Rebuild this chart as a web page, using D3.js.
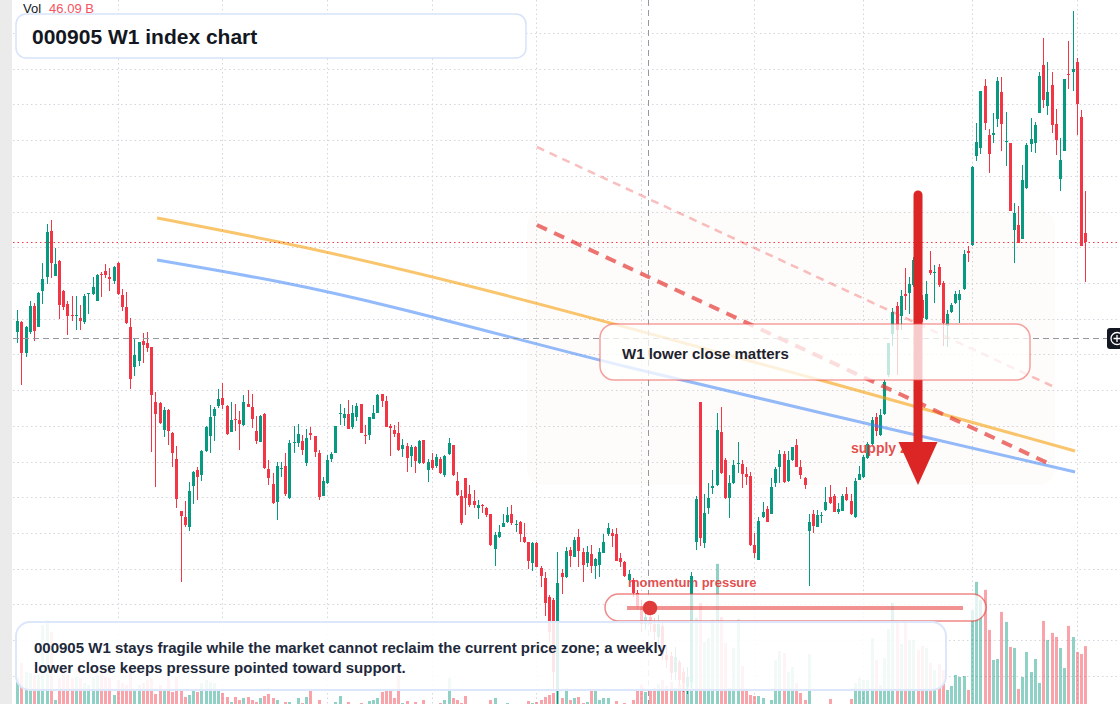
<!DOCTYPE html>
<html lang="en">
<head>
<meta charset="UTF-8">
<title>000905 W1 index chart</title>
<script src="https://d3js.org/d3.v7.min.js"></script>
<style>
  html, body { margin: 0; padding: 0; background: #ffffff; }
  svg { display: block; font-family: "Liberation Sans", Arial, sans-serif; }
</style>
</head>
<body>
<svg id="chart"></svg>
<script>
// weekly bars, oldest first
const open = [
  6157, 6227, 6010, 6157, 6339, 6192, 6444, 6542, 6864, 6549,
  6654, 6444, 6353, 6276, 6269, 6255, 6227, 6423, 6423, 6374,
  6563, 6584, 6542, 6514, 6640, 6416, 6332, 6192, 5912, 5954,
  6094, 6080, 6052, 5667, 5660, 5471, 5611, 5450, 5268, 4904,
  4862, 4792, 5079, 5191, 5156, 5324, 5429, 5569, 5639, 5695,
  5639, 5457, 5548, 5541, 5506, 5653, 5632, 5464, 5387, 5583,
  5198, 5093, 4967, 5198, 5219, 4995, 5380, 5380, 5394, 5240,
  5450, 5429, 5310, 5009, 5100, 5268, 5310, 5583, 5555, 5583,
  5492, 5562, 5653, 5436, 5436, 5548, 5590, 5723, 5674, 5499,
  5471, 5450, 5338, 5359, 5289, 5352, 5240, 5401, 5191, 5261,
  5219, 5268, 5156, 5303, 5366, 5114, 5009, 5135, 5023, 4974,
  4925, 4946, 4925, 4883, 4638, 4722, 4792, 4827, 4883, 4806,
  4827, 4722, 4687, 4540, 4680, 4505, 4435, 4302, 4281, 3651,
  4470, 4442, 4631, 4582, 4722, 4617, 4540, 4603, 4519, 4526,
  4610, 4743, 4750, 4743, 4575, 4547, 4421, 4421, 4330, 4232,
  4113, 4162, 4113, 4022, 4099, 3896, 3889, 3777, 3847, 3777,
  3672, 3707, 4687, 5667, 4680, 4925, 5065, 5086, 5457, 5261,
  4995, 5100, 5233, 5233, 5163, 5149, 4666, 4561, 4862, 4918,
  4883, 5100, 5212, 5303, 5114, 5261, 5366, 5212, 5135, 4764,
  4883, 4792, 4869, 4911, 5002, 5009, 4897, 4904, 5023, 4974,
  4862, 5121, 5142, 5275, 5373, 5562, 5436, 5583, 5856, 6143,
  6339, 6269, 6423, 6430, 6486, 6647, 6381, 6248, 6591, 6570,
  6612, 6500, 6199, 6297, 6360, 6381, 6458, 6724, 6766, 7389,
  7445, 7879, 7536, 7536, 7648, 7837, 7487, 7480, 6871, 6906,
  6808, 7165, 7473, 7480, 7690, 8026, 7739, 7886, 7613, 7228,
  7424, 7963, 7977, 8047, 7662, 6850
];
const high = [
  6311, 6234, 6199, 6374, 6360, 6437, 6640, 6913, 6941, 6745,
  6661, 6451, 6374, 6409, 6409, 6346, 6423, 6430, 6542, 6563,
  6577, 6633, 6605, 6619, 6647, 6458, 6437, 6255, 6115, 6087,
  6150, 6157, 6052, 5737, 5667, 5632, 5618, 5457, 5359, 4904,
  4974, 5107, 5184, 5212, 5331, 5499, 5646, 5632, 5758, 5800,
  5646, 5667, 5653, 5604, 5716, 5751, 5723, 5569, 5576, 5590,
  5261, 5170, 5247, 5247, 5310, 5401, 5499, 5513, 5436, 5478,
  5492, 5429, 5331, 5142, 5296, 5317, 5499, 5653, 5625, 5681,
  5646, 5660, 5653, 5506, 5562, 5646, 5723, 5723, 5709, 5513,
  5506, 5527, 5408, 5380, 5366, 5359, 5401, 5401, 5268, 5310,
  5303, 5282, 5296, 5415, 5366, 5177, 5051, 5135, 5086, 5051,
  4981, 4953, 4932, 4883, 4757, 4806, 4883, 4932, 4946, 4841,
  4834, 4820, 4687, 4687, 4687, 4519, 4477, 4316, 4295, 4617,
  4498, 4652, 4652, 4722, 4778, 4645, 4659, 4666, 4575, 4645,
  4743, 4820, 4778, 4785, 4610, 4554, 4491, 4435, 4351, 4281,
  4197, 4197, 4155, 4176, 4127, 3966, 3917, 3952, 3861, 3805,
  3812, 4477, 5009, 5667, 5023, 5100, 5191, 5590, 5632, 5275,
  5156, 5261, 5387, 5261, 5212, 5177, 4750, 4862, 4967, 4939,
  5135, 5212, 5331, 5324, 5324, 5352, 5408, 5261, 5142, 4883,
  4911, 4911, 4897, 5072, 5086, 5023, 4960, 5023, 5072, 5023,
  5135, 5219, 5296, 5387, 5562, 5590, 5618, 5828, 6080, 6325,
  6367, 6451, 6605, 6542, 6682, 6675, 6416, 6514, 6724, 6626,
  6633, 6514, 6311, 6360, 6444, 6451, 6731, 6759, 7319, 7620,
  7844, 7928, 7578, 7690, 7942, 7942, 7697, 7480, 7060, 7039,
  7326, 7480, 7655, 7627, 7977, 8215, 8047, 7977, 7718, 7515,
  7928, 8194, 8404, 8075, 7711, 7144
];
const low = [
  6080, 5786, 5982, 6143, 6094, 6192, 6353, 6493, 6535, 6549,
  6248, 6311, 6136, 6234, 6171, 6171, 6213, 6283, 6416, 6374,
  6402, 6535, 6444, 6493, 6416, 6304, 6213, 5758, 5849, 5919,
  5940, 6017, 5317, 5072, 5513, 5422, 5366, 5212, 4925, 4407,
  4792, 4764, 4953, 4981, 5114, 5317, 5310, 5394, 5625, 5618,
  5436, 5457, 5464, 5331, 5499, 5632, 5485, 5373, 5387, 5198,
  5086, 4953, 4841, 5142, 5009, 4988, 5310, 5352, 5296, 5219,
  5401, 5282, 4981, 5009, 5093, 5247, 5310, 5506, 5499, 5478,
  5478, 5534, 5450, 5373, 5401, 5548, 5590, 5632, 5492, 5289,
  5422, 5324, 5282, 5177, 5212, 5170, 5233, 5233, 5107, 5191,
  5205, 5163, 5142, 5296, 5149, 5009, 4806, 4876, 4932, 4925,
  4848, 4890, 4862, 4659, 4519, 4715, 4792, 4820, 4806, 4757,
  4687, 4680, 4498, 4484, 4512, 4372, 4169, 3987, 3651, 3539,
  4323, 4435, 4512, 4582, 4512, 4407, 4512, 4470, 4428, 4442,
  4610, 4729, 4652, 4554, 4512, 4442, 4414, 4302, 4211, 4057,
  4071, 4057, 4001, 3945, 3861, 3805, 3721, 3721, 3686, 3637,
  3623, 3665, 4631, 4659, 4645, 4883, 5023, 5079, 5163, 4988,
  4855, 5093, 5170, 5065, 5086, 4659, 4575, 4561, 4855, 4827,
  4883, 5072, 5100, 5100, 5107, 5254, 5212, 5128, 5058, 4379,
  4750, 4792, 4820, 4904, 4953, 4897, 4883, 4904, 4974, 4876,
  4855, 5121, 5135, 5268, 5366, 5429, 5429, 5576, 5842, 6059,
  5856, 6171, 6311, 6283, 6472, 6346, 6227, 6241, 6556, 6360,
  6472, 6059, 6052, 6290, 6353, 6220, 6451, 6647, 6759, 7354,
  7403, 7571, 7270, 7480, 7592, 7424, 7319, 7004, 6640, 6780,
  6808, 7158, 7417, 7410, 7690, 7725, 7676, 7550, 7396, 7144,
  7424, 7858, 7844, 7536, 6759, 6507
];
const close = [
  6234, 6010, 6192, 6339, 6164, 6430, 6528, 6857, 6640, 6633,
  6346, 6332, 6269, 6269, 6276, 6234, 6409, 6430, 6472, 6556,
  6556, 6556, 6528, 6612, 6423, 6332, 6220, 5828, 5996, 6087,
  6066, 6045, 5716, 5583, 5520, 5611, 5464, 5310, 4988, 4869,
  4806, 5044, 5177, 5142, 5324, 5492, 5562, 5618, 5688, 5646,
  5443, 5541, 5541, 5513, 5667, 5632, 5548, 5394, 5569, 5205,
  5135, 4960, 5219, 5205, 5023, 5380, 5387, 5443, 5331, 5415,
  5436, 5317, 5002, 5114, 5261, 5303, 5499, 5590, 5583, 5478,
  5590, 5639, 5450, 5429, 5562, 5590, 5716, 5674, 5492, 5485,
  5443, 5331, 5366, 5275, 5352, 5254, 5394, 5240, 5247, 5205,
  5282, 5170, 5289, 5380, 5156, 5016, 4820, 4995, 4946, 4946,
  4946, 4939, 4876, 4666, 4736, 4757, 4820, 4876, 4820, 4813,
  4743, 4687, 4554, 4680, 4512, 4449, 4260, 4057, 3777, 4400,
  4442, 4624, 4589, 4701, 4624, 4526, 4617, 4519, 4568, 4617,
  4687, 4785, 4729, 4554, 4547, 4449, 4463, 4330, 4239, 4113,
  4162, 4113, 4057, 4113, 3896, 3861, 3770, 3882, 3721, 3700,
  3742, 4449, 4988, 4715, 4890, 4995, 5079, 5471, 5170, 4995,
  5100, 5226, 5240, 5163, 5142, 4666, 4610, 4834, 4897, 4827,
  5072, 5198, 5303, 5107, 5261, 5352, 5212, 5156, 5086, 4827,
  4799, 4876, 4876, 4967, 4960, 4897, 4918, 5009, 4981, 4883,
  5114, 5163, 5282, 5373, 5541, 5464, 5576, 5807, 6080, 6297,
  6171, 6409, 6409, 6493, 6661, 6381, 6255, 6423, 6570, 6577,
  6486, 6220, 6283, 6346, 6423, 6423, 6703, 6710, 7312, 7487,
  7844, 7620, 7403, 7550, 7914, 7613, 7494, 7004, 6990, 6780,
  7221, 7466, 7508, 7606, 7949, 7781, 7837, 7606, 7501, 7361,
  7928, 7956, 7998, 7753, 6759, 6787
];
// volume, billions
const volume = [
  23.8, 34.3, 28.0, 27.3, 25.9, 25.9, 60.9, 63.7, 56.0, 8.4,
  23.8, 29.4, 25.9, 23.8, 24.5, 23.8, 20.3, 18.9, 24.5, 25.9,
  27.3, 24.5, 23.8, 11.9, 22.4, 20.3, 18.9, 29.4, 15.4, 18.9,
  20.3, 22.4, 23.8, 12.6, 18.9, 15.4, 24.5, 14.0, 24.5, 15.4,
  10.5, 11.9, 16.1, 14.0, 20.3, 22.4, 21.0, 20.3, 15.4, 13.3,
  10.5, 7.0, 10.5, 8.4, 9.8, 10.5, 8.4, 7.0, 9.8, 11.2,
  12.6, 9.8, 8.4, 5.6, 7.0, 7.0, 4.9, 9.8, 6.3, 10.5,
  15.4, 5.6, 8.4, 4.2, 4.9, 3.5, 7.0, 11.2, 5.6, 7.0,
  4.2, 4.9, 6.3, 4.2, 7.7, 8.4, 9.8, 14.0, 15.4, 15.4,
  9.8, 25.9, 6.3, 7.7, 4.9, 7.0, 5.6, 8.4, 4.9, 4.2,
  5.6, 6.3, 8.4, 23.8, 9.8, 8.4, 6.3, 11.2, 5.6, 4.2,
  4.9, 3.5, 4.2, 8.4, 9.8, 5.6, 4.9, 6.3, 5.6, 4.2,
  4.9, 5.6, 7.7, 6.3, 7.0, 8.4, 10.5, 11.9, 13.3, 15.4,
  9.8, 16.8, 8.4, 9.8, 10.5, 6.3, 7.0, 15.4, 14.7, 8.4,
  9.8, 9.8, 5.6, 7.7, 4.9, 6.3, 5.6, 8.4, 15.4, 18.9,
  14.0, 15.4, 16.8, 19.6, 22.4, 18.2, 21.0, 16.8, 19.6, 22.4,
  18.2, 79.8, 65.8, 76.3, 49.0, 51.8, 64.4, 103.6, 66.5, 48.3,
  16.8, 44.8, 65.1, 32.2, 15.4, 11.9, 11.2, 11.2, 9.8, 4.9,
  8.4, 36.4, 42.7, 41.3, 28.0, 31.5, 20.3, 13.3, 8.4, 40.6,
  4.9, 4.2, 4.9, 5.6, 9.1, 4.2, 4.9, 5.6, 4.9, 9.1,
  20.3, 23.8, 22.4, 22.4, 51.8, 36.4, 18.9, 37.8, 58.1, 76.3,
  62.3, 47.6, 62.3, 50.4, 50.4, 43.4, 46.2, 44.8, 34.3, 29.4,
  33.6, 29.4, 15.4, 18.2, 25.9, 24.5, 25.2, 15.4, 71.4, 91.0,
  78.4, 85.4, 57.4, 36.4, 37.1, 70.0, 63.0, 45.5, 44.8, 16.1,
  24.5, 42.0, 28.0, 37.1, 20.3, 63.7, 50.4, 55.3, 52.5, 44.8,
  30.8, 60.2, 52.5, 42.0, 40.6, 46.09
];

// grid ticks
const priceTicks = [8250, 8000, 7750, 7500, 7250, 7000, 6750, 6500, 6250, 6000,
  5750, 5500, 5250, 5000, 4750, 4500, 4250, 4000, 3750];
const timeTickIdx = [24, 49, 74, 99, 124, 149, 176, 202, 228, 253];

// drawings: [bar index, price]
const orangeLine = [[33.4, 6955], [62.8, 6785], [191.7, 5821], [252.6, 5324]];
const blueLine = [[33.4, 6661], [62.8, 6507], [148.7, 5891], [194.1, 5576], [252.6, 5177]];
const lightTrend = [[124.1, 7452], [247.1, 5779]];
const heavyTrend = [[124.1, 6906], [247.1, 5226]];
const zoneIdx = [121.7, 247.8];
const zonePrice = [7011, 5086];
const arrowIdx = 215.1;
const arrowPrice = [7116, 5387, 5086]; // shaft top, head base, tip
const crossIdx = 150.7;
const crossPrice = 6115;

const W = 1120, H = 704;
const UP = "#089981", DOWN = "#f23645";

const svg = d3.select("#chart").attr("width", W).attr("height", H);
const x = d3.scaleLinear().domain([0, close.length - 1]).range([17.2, 1085.1]);
const y = d3.scaleLinear().domain([3553, 8481]).range([704, 0]);
const yVol = d3.scaleLinear().domain([0, 100]).range([712, 569]);
const idx = d3.range(close.length);
const cx = i => Math.round(x(i));

svg.append("rect").attr("width", W).attr("height", H).attr("fill", "#ffffff");
svg.append("rect").attr("width", 12).attr("height", H).attr("fill", "#ebebeb");

// grid
const grid = svg.append("g")
  .attr("stroke", "#d3d6dc").attr("stroke-width", 1).attr("stroke-dasharray", "1.5,3");
grid.selectAll(".gh").data(priceTicks).join("line")
  .attr("x1", 13).attr("x2", W)
  .attr("y1", d => Math.round(y(d)) + 0.5).attr("y2", d => Math.round(y(d)) + 0.5);
grid.selectAll(".gv").data(timeTickIdx).join("line")
  .attr("x1", d => cx(d) + 0.5).attr("x2", d => cx(d) + 0.5)
  .attr("y1", 0).attr("y2", H);

// zone
svg.append("rect")
  .attr("x", x(zoneIdx[0])).attr("y", y(zonePrice[0]))
  .attr("width", x(zoneIdx[1]) - x(zoneIdx[0]))
  .attr("height", y(zonePrice[1]) - y(zonePrice[0]))
  .attr("rx", 16)
  .attr("fill", "rgba(230,180,140,0.04)");

// volume
svg.append("g").selectAll("rect").data(idx).join("rect")
  .attr("x", i => cx(i) - 1)
  .attr("width", 3)
  .attr("y", i => yVol(volume[i]))
  .attr("height", i => yVol(0) - yVol(volume[i]))
  .attr("fill", i => close[i] >= open[i] ? "rgba(8,153,129,0.45)" : "rgba(242,54,69,0.45)");

// momentum label (under candles)
svg.append("text").attr("x", 628).attr("y", 587)
  .attr("font-size", 13).attr("font-weight", "bold")
  .attr("fill", "rgba(225,55,55,0.9)")
  .text("momentum pressure");

// candles
const bars = svg.append("g").selectAll("g").data(idx).join("g")
  .attr("fill", i => close[i] >= open[i] ? UP : DOWN);
bars.append("rect")
  .attr("x", i => cx(i))
  .attr("width", 1)
  .attr("y", i => y(high[i]))
  .attr("height", i => Math.max(1, y(low[i]) - y(high[i])));
bars.append("rect")
  .attr("x", i => cx(i) - 1)
  .attr("width", 3)
  .attr("y", i => y(Math.max(open[i], close[i])))
  .attr("height", i => Math.max(1, Math.abs(y(open[i]) - y(close[i]))));

// lines
const line = d3.line().x(d => x(d[0])).y(d => y(d[1]));
const curve = d3.line().x(d => x(d[0])).y(d => y(d[1])).curve(d3.curveMonotoneX);
svg.append("path").attr("d", curve(orangeLine)).attr("fill", "none")
  .attr("stroke", "rgba(245,158,11,0.6)").attr("stroke-width", 3);
svg.append("path").attr("d", curve(blueLine)).attr("fill", "none")
  .attr("stroke", "rgba(59,130,246,0.55)").attr("stroke-width", 3);
svg.append("path").attr("d", line(lightTrend)).attr("fill", "none")
  .attr("stroke", "rgba(239,68,68,0.35)").attr("stroke-width", 2.5)
  .attr("stroke-dasharray", "8,6");
svg.append("path").attr("d", line(heavyTrend)).attr("fill", "none")
  .attr("stroke", "rgba(229,57,53,0.7)").attr("stroke-width", 4)
  .attr("stroke-dasharray", "11,8");

// last price line
const lastY = Math.round(y(close[close.length - 1])) + 0.5;
svg.append("line").attr("x1", 13).attr("x2", W).attr("y1", lastY).attr("y2", lastY)
  .attr("stroke", DOWN).attr("stroke-width", 1).attr("stroke-dasharray", "1.5,3");

// crosshair
const chX = Math.round(x(crossIdx)) + 0.5, chY = Math.round(y(crossPrice)) + 0.5;
svg.append("line").attr("x1", chX).attr("x2", chX).attr("y1", 0).attr("y2", H)
  .attr("stroke", "#9598a1").attr("stroke-dasharray", "6,4");
svg.append("line").attr("x1", 13).attr("x2", 1107).attr("y1", chY).attr("y2", chY)
  .attr("stroke", "#9598a1").attr("stroke-dasharray", "6,4");

// supply zone label + arrow
svg.append("text").attr("x", 851).attr("y", 453)
  .attr("font-size", 14).attr("font-weight", "bold")
  .attr("fill", "rgba(225,55,55,0.9)")
  .text("supply zone");
const ax = x(arrowIdx);
svg.append("line").attr("x1", ax).attr("x2", ax)
  .attr("y1", y(arrowPrice[0])).attr("y2", y(arrowPrice[1]) + 2)
  .attr("stroke", "#dc2626").attr("stroke-width", 9).attr("stroke-linecap", "round");
svg.append("path")
  .attr("d", `M${ax - 19.5},${y(arrowPrice[1])}L${ax + 19.5},${y(arrowPrice[1])}L${ax},${y(arrowPrice[2])}Z`)
  .attr("fill", "#dc2626");

// W1 box
svg.append("rect").attr("x", 600).attr("y", 324).attr("width", 430).attr("height", 56)
  .attr("rx", 14).attr("fill", "rgba(255,255,255,0.76)")
  .attr("stroke", "rgba(239,83,80,0.55)").attr("stroke-width", 1.5);
svg.append("text").attr("x", 622).attr("y", 359)
  .attr("font-size", 15).attr("font-weight", "bold").attr("fill", "#1e222d")
  .text("W1 lower close matters");

// momentum pill
svg.append("rect").attr("x", 605).attr("y", 594).attr("width", 381).attr("height", 27)
  .attr("rx", 13.5).attr("fill", "rgba(255,255,255,0.75)")
  .attr("stroke", "rgba(229,57,53,0.6)").attr("stroke-width", 1.5);
svg.append("line").attr("x1", 627).attr("x2", 963).attr("y1", 608).attr("y2", 608)
  .attr("stroke", "rgba(229,57,53,0.55)").attr("stroke-width", 4);
svg.append("circle").attr("cx", 650).attr("cy", 608).attr("r", 7.3).attr("fill", "#e03b3b");

// bottom note
svg.append("rect").attr("x", 16).attr("y", 622).attr("width", 930).attr("height", 68)
  .attr("rx", 14).attr("fill", "rgba(255,255,255,0.88)")
  .attr("stroke", "#dce7fb").attr("stroke-width", 2);
const note = svg.append("text").attr("font-size", 15).attr("font-weight", "bold").attr("fill", "#1e293b");
note.append("tspan").attr("x", 34).attr("y", 653)
  .text("000905 W1 stays fragile while the market cannot reclaim the current price zone; a weekly");
note.append("tspan").attr("x", 34).attr("y", 673)
  .text("lower close keeps pressure pointed toward support.");

// title
svg.append("rect").attr("x", 16).attr("y", 14).attr("width", 510).attr("height", 44)
  .attr("rx", 10).attr("fill", "rgba(255,255,255,0.95)")
  .attr("stroke", "#d6e3fa").attr("stroke-width", 1.5);
svg.append("text").attr("x", 32).attr("y", 43.5)
  .attr("font-size", 21).attr("font-weight", "bold").attr("fill", "#131722")
  .text("000905 W1 index chart");

// volume legend
const legend = svg.append("text").attr("x", 23).attr("y", 13).attr("font-size", 13);
legend.append("tspan").attr("fill", "#131722").text("Vol");
legend.append("tspan").attr("dx", 8).attr("fill", "#f7525f")
  .text(d3.format(".2f")(volume[volume.length - 1]) + " B");

// crosshair button at right edge
svg.append("rect").attr("x", 1107).attr("y", 328).attr("width", 24).attr("height", 21)
  .attr("rx", 3).attr("fill", "#131722");
svg.append("circle").attr("cx", 1117).attr("cy", 338.5).attr("r", 6)
  .attr("fill", "none").attr("stroke", "#ffffff").attr("stroke-width", 1.3);
svg.append("path").attr("d", "M1113.5,338.5H1120.5M1117,335V342")
  .attr("stroke", "#ffffff").attr("stroke-width", 1.3);
</script>
</body>
</html>
